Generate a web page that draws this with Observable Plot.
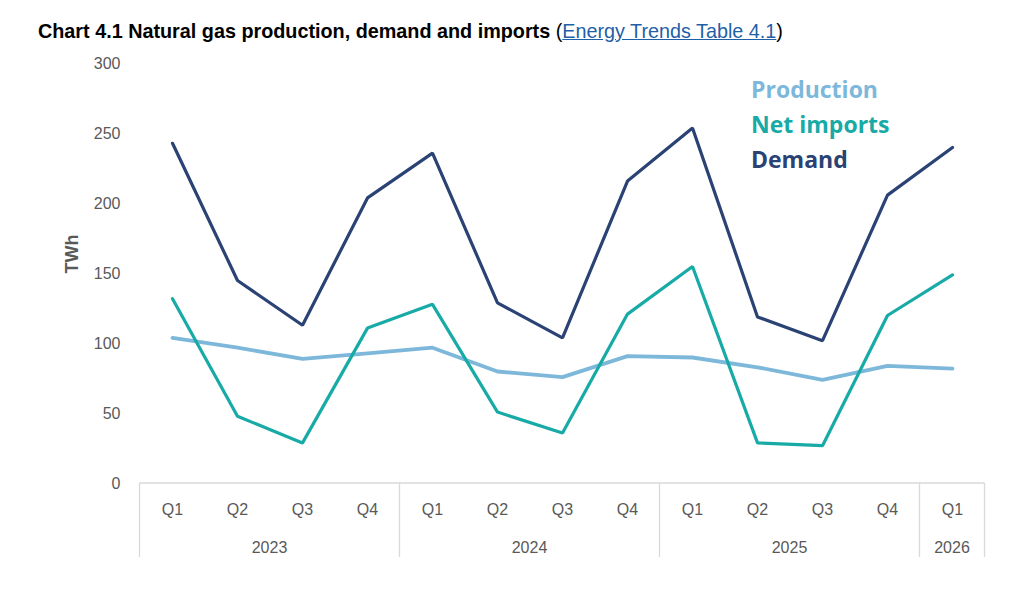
<!DOCTYPE html>
<html>
<head>
<meta charset="utf-8">
<script src="https://cdn.jsdelivr.net/npm/d3@7"></script>
<script src="https://cdn.jsdelivr.net/npm/@observablehq/plot@0.6"></script>
<style>
  body { margin: 0; background: #fff; font-family: "Liberation Sans", Arial, sans-serif; }
  #wrap { position: relative; width: 1024px; height: 589px; overflow: hidden; }
  #title { position: absolute; left: 38px; top: 20px; font-size: 19.8px; line-height: 22px; font-weight: bold; color: #000; white-space: nowrap; }
  #title a { color: #1f5fa8; font-weight: normal; text-decoration: underline; }
  #chart { position: absolute; left: 0; top: 50px; }
  #legend { position: absolute; left: 751px; top: 72px; font-family: "Open Sans", sans-serif; font-weight: bold; font-size: 23px; line-height: 35px; }
</style>
</head>
<body>
<div id="wrap">
  <div id="title">Chart 4.1 Natural gas production, demand and imports <span style="font-weight:normal">(</span><a href="#">Energy Trends Table 4.1</a><span style="font-weight:normal">)</span></div>
  <div id="chart"></div>
  <div id="legend"></div>
</div>
<script>
// Quarterly periods and their labels
const years    = ["2023", "2023", "2023", "2023", "2024", "2024", "2024", "2024", "2025", "2025", "2025", "2025", "2026"];
const quarters = ["Q1", "Q2", "Q3", "Q4", "Q1", "Q2", "Q3", "Q4", "Q1", "Q2", "Q3", "Q4", "Q1"];

// Values in TWh
const production = [104, 97, 89, 93, 97, 80, 76, 91, 90, 83, 74, 84, 82];
const netImports = [132, 48, 29, 111, 128, 51, 36, 121, 155, 29, 27, 120, 149];
const demand     = [243, 145, 113, 204, 236, 129, 104, 216, 254, 119, 102, 206, 240];

const yTicks = [0, 50, 100, 150, 200, 250, 300];

const seriesNames  = ["Production", "Net imports", "Demand"];
const seriesColors = ["#7db8da", "#17aaa6", "#2a4274"];
const seriesWidths = [3.8, 3.2, 3.2];
const seriesValues = [production, netImports, demand];

const periods = years.map((y, i) => `${y} ${quarters[i]}`);
const rows = seriesNames.flatMap((name, s) =>
  periods.map((p, i) => ({series: name, period: p, value: seriesValues[s][i], width: seriesWidths[s]}))
);

const textGrey = "#595959";
const ruleGrey = "#d9d9d9";

const chart = Plot.plot({
  width: 1024,
  height: 539,
  marginTop: 13,
  marginBottom: 106,
  marginLeft: 139,
  marginRight: 40,
  style: {fontFamily: "'Liberation Sans', Arial, sans-serif", fontSize: "16px", color: textGrey, background: "#fff"},
  x: {type: "point", domain: periods, padding: 0.5, label: null},
  y: {domain: [0, 300], label: null},
  color: {domain: seriesNames, range: seriesColors},
  marks: [
    Plot.axisY({ticks: yTicks, tickSize: 0, tickPadding: 19, fill: textGrey, fontSize: 16}),
    Plot.axisX({tickSize: 0, tickPadding: 20, tickFormat: (d) => d.split(" ")[1], fill: textGrey, fontSize: 16}),
    Plot.text(["TWh"], {frameAnchor: "left", dx: -67, rotate: -90, fontWeight: "bold", fontSize: 18, fill: textGrey}),
    ...seriesNames.map((name, s) =>
      Plot.line(rows.filter((d) => d.series === name), {
        x: "period", y: "value", stroke: seriesColors[s], strokeWidth: seriesWidths[s], strokeLinejoin: "miter"
      })
    )
  ]
});

document.getElementById("chart").appendChild(chart);

// Category axis frame: top rule, year separators and year labels
const xs = chart.scale("x");
const ys = chart.scale("y");
const step = xs.apply(periods[1]) - xs.apply(periods[0]);
const y0 = ys.apply(0);
const left = xs.apply(periods[0]) - step / 2;
const right = xs.apply(periods[periods.length - 1]) + step / 2;
const g = d3.select(chart).append("g");
g.append("line")
  .attr("x1", left).attr("x2", right).attr("y1", y0).attr("y2", y0)
  .attr("stroke", ruleGrey).attr("stroke-width", 1.3);

const yearGroups = d3.groups(periods.map((p, i) => ({p, year: years[i]})), (d) => d.year);
const bounds = [left];
yearGroups.forEach(([year, items]) => {
  const a = xs.apply(items[0].p) - step / 2;
  const b = xs.apply(items[items.length - 1].p) + step / 2;
  bounds.push(b);
  g.append("text")
    .attr("x", (a + b) / 2).attr("y", y0 + 70)
    .attr("text-anchor", "middle")
    .attr("fill", textGrey).attr("font-size", 16)
    .text(year);
});
bounds.forEach((bx) => {
  g.append("line")
    .attr("x1", bx).attr("x2", bx).attr("y1", y0).attr("y2", y0 + 74)
    .attr("stroke", ruleGrey).attr("stroke-width", 1.3);
});

// Coloured series names
const legend = d3.select("#legend");
seriesNames.forEach((name, i) => {
  legend.append("div").style("color", seriesColors[i]).text(name);
});
</script>
</body>
</html>
